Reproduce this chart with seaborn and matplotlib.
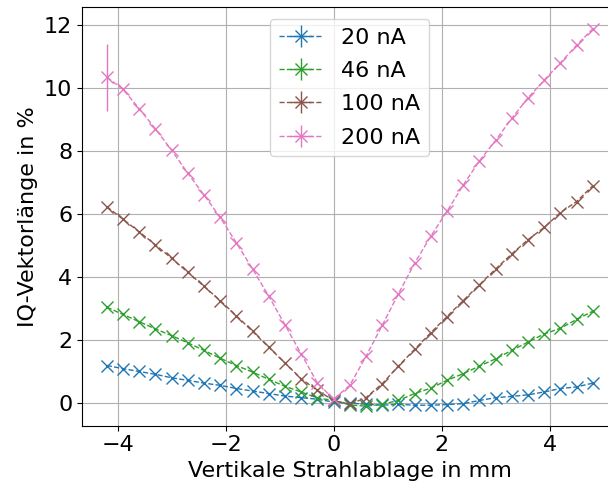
import numpy as np
import pandas as pd
import matplotlib
matplotlib.use("Agg")
import matplotlib.pyplot as plt
import seaborn as sns

# Data
positions = [-4.2, -3.9, -3.6, -3.3, -3.0, -2.7, -2.4, -2.1, -1.8, -1.5, -1.2, -0.9, -0.6, -0.3, 0.0,
             0.3, 0.6, 0.9, 1.2, 1.5, 1.8, 2.1, 2.4, 2.7, 3.0, 3.3, 3.6, 3.9, 4.2, 4.5, 4.8]

labels = ["20 nA", "46 nA", "100 nA", "200 nA"]

iq_20 = [1.20, 1.10, 1.01, 0.92, 0.81, 0.73, 0.64, 0.57, 0.47, 0.39, 0.31, 0.23, 0.18, 0.13, 0.04,
         0.01, -0.03, -0.06, -0.03, -0.06, -0.06, -0.04, -0.01, 0.09, 0.18, 0.22, 0.27, 0.36, 0.47, 0.52, 0.64]
iq_46 = [3.05, 2.82, 2.59, 2.36, 2.15, 1.92, 1.68, 1.43, 1.20, 0.99, 0.76, 0.54, 0.36, 0.17, 0.09,
         -0.05, -0.09, -0.03, 0.09, 0.31, 0.48, 0.73, 0.94, 1.18, 1.41, 1.68, 1.94, 2.20, 2.38, 2.66, 2.92]
iq_100 = [6.24, 5.84, 5.44, 5.03, 4.60, 4.16, 3.71, 3.26, 2.78, 2.28, 1.78, 1.28, 0.78, 0.41, 0.09,
          -0.03, 0.18, 0.62, 1.18, 1.71, 2.24, 2.75, 3.26, 3.76, 4.26, 4.74, 5.19, 5.58, 6.05, 6.40, 6.90]
iq_200 = [10.35, 9.96, 9.35, 8.71, 8.03, 7.30, 6.61, 5.90, 5.09, 4.26, 3.40, 2.49, 1.57, 0.65, 0.13,
          0.57, 1.49, 2.47, 3.47, 4.44, 5.30, 6.09, 6.92, 7.69, 8.34, 9.04, 9.69, 10.25, 10.80, 11.36, 11.88]

err_200 = [1.06] + [0.0] * 30
err_zero = [0.0] * 31

series = [iq_20, iq_46, iq_100, iq_200]
errors = [err_zero, err_zero, err_zero, err_200]

tab = sns.color_palette("tab10")
colors = [tab[0], tab[2], tab[5], tab[6]]

plt.rcParams["font.size"] = 16
plt.rcParams["font.family"] = ["DejaVu Sans"]

fig = plt.figure(figsize=(6.08, 4.86), dpi=100)
ax = fig.add_axes([82 / 608, 60.3 / 486, (617 - 82) / 608, (425.7 - 7.5) / 486])

handles = []
for lab, vals, err, c in zip(labels, series, errors, colors):
    df = pd.DataFrame({"x": positions, "y": vals})
    sns.lineplot(data=df, x="x", y="y", ax=ax, color=c, linestyle="--", linewidth=1.0,
                 marker="x", markersize=9, mec=c, mew=1.0, legend=False)
    ax.errorbar(positions, vals, yerr=err, fmt="none", ecolor=c, elinewidth=1.0)
    h = ax.errorbar([np.nan], [np.nan], xerr=[0], yerr=[0], fmt="--x", color=c,
                    markersize=9, linewidth=1.0, label=lab)
    handles.append(h)

ax.set_xlim(-4.66, 5.25)
ax.set_ylim(-0.71, 12.56)
ax.set_xticks([-4, -2, 0, 2, 4])
ax.set_yticks([0, 2, 4, 6, 8, 10, 12])
ax.grid(True, color="#b0b0b0", linewidth=0.8)
ax.set_axisbelow(True)
ax.set_xlabel("Vertikale Strahlablage in mm")
ax.set_ylabel("IQ-Vektorlänge in %")
ax.legend(handles=handles, labels=labels, loc="upper center", labelspacing=0.6)

fig.savefig("out.png", dpi=100)
